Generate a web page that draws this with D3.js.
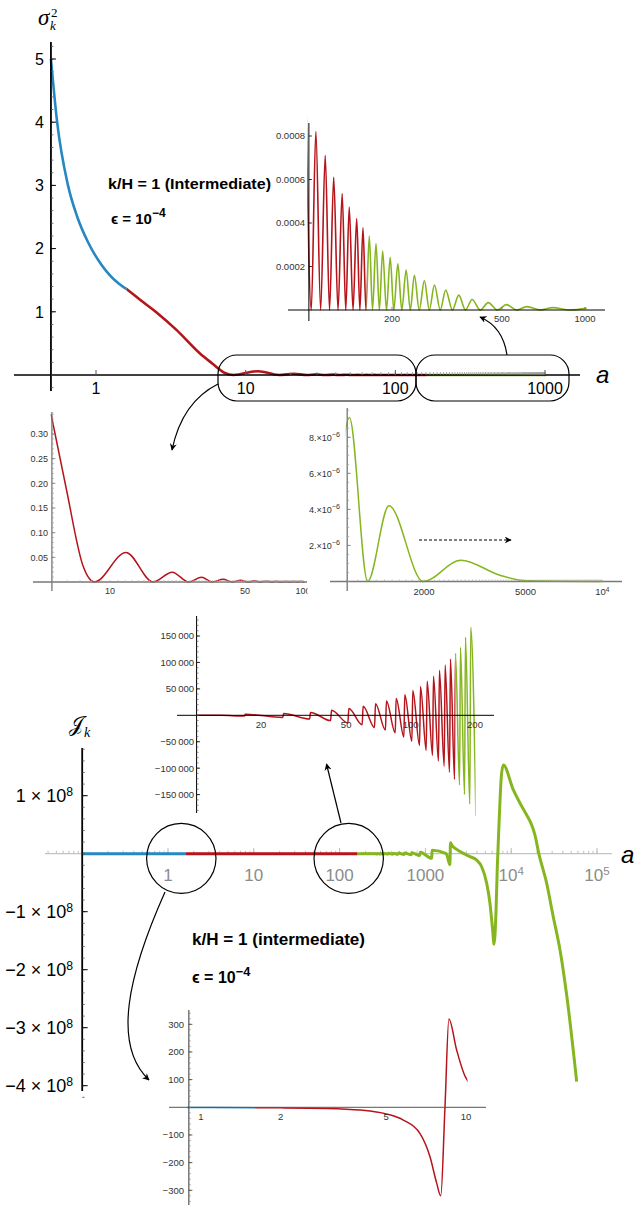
<!DOCTYPE html>
<html>
<head>
<meta charset="utf-8">
<script src="https://cdn.jsdelivr.net/npm/d3@7"></script>
<style>
  body { margin: 0; background: #fff; }
  svg { display: block; }
</style>
</head>
<body>
<svg id="fig" width="637" height="1205"></svg>
<script>
// ---- sigma_k^2 (top figure) ----
const sigSmoothA = [0.5, 0.55, 0.65, 0.75, 0.885, 1.09, 1.41, 1.6, 1.97, 2.54, 3.46, 4.95, 5.95, 7.26];
const sigSmoothV = [5.0, 4.0, 3.0, 2.5, 2.1, 1.74, 1.45, 1.36, 1.19, 0.99, 0.71, 0.34, 0.187, 0.032];
const sigZeroA = [8.3, 16.7, 25.6, 33.8, 43, 51.8, 60.3, 68.5, 77, 85.3, 93.5, 102, 110.3, 118.8,
  127.5, 136, 144.5, 153, 161, 170, 180, 191, 203, 217, 233, 251, 273, 299, 331, 369, 418, 482,
  567, 690, 880, 1203, 1986];
const sigPeakA = [12.1, 21, 29.8, 38.6, 47.5, 56, 64.5, 72.8, 81, 89.5, 97.8, 106, 114.6, 123,
  132, 140, 149, 157, 165.5, 175, 185, 197, 210, 225, 241, 262, 285, 313, 349, 390, 446, 519,
  615, 764, 1020, 1457, 2790];
const sigPeakV = [0.06, 0.02, 0.0094, 0.0054, 0.0035, 0.0024, 0.0017, 0.0013, 0.0011, 0.00097,
  0.0009, 0.00082, 0.00071, 0.00061, 0.000535, 0.000473, 0.00042, 0.000378, 0.00034, 0.000305,
  0.000271, 0.000242, 0.000212, 0.000184, 0.00016, 0.000135, 0.000115, 0.0000915, 0.0000682,
  0.000048, 0.000034, 0.0000248, 0.0000155, 0.000011, 0.0000091, 0.0000042, 0.00000118];
const sigTailA = [3970, 5050, 10000];
const sigTailV = [0.00000035, 0.00000004, 0];

// ---- J_k (bottom figure) ----
const jEarlyA = [0.1, 1, 2, 2.98, 4, 5, 5.8, 6.7, 7.31, 7.75, 8.03, 8.33, 8.62, 9.22, 9.97, 13];
const jEarlyV = [0, -1, -2, -4, -10, -24, -46, -94, -178, -274, -320, 0, 319, 207, 108, 10];
const spikeA = [16.8, 25.4, 33.9, 42.5, 51.2, 59.7, 68.2, 76.7, 85.2, 93.5, 101.9, 110.7, 118.9,
  127.3, 135.7, 144.3, 152.8, 161.3, 170.2, 179.6, 190.1, 203, 217, 233, 251, 273, 299, 331, 369,
  418, 482, 567, 690, 865, 1190];
const spikeUp = [1900, 3500, 5500, 9500, 13000, 17000, 22000, 27000, 32000, 39000, 47000, 54500,
  64600, 74000, 85000, 95000, 106500, 117000, 128600, 147600, 166700, 190000, 210000, 240000,
  280000, 330000, 400000, 480000, 600000, 800000, 1.0e6, 1.3e6, 1.8e6, 2.5e6, 6e6];
const spikeDown = [-1500, -4000, -7000, -10000, -14500, -18000, -23000, -28000, -33000, -41000,
  -49000, -57000, -66500, -76000, -87000, -96500, -108000, -121000, -132000, -150000, -168000,
  -190000, -210000, -240000, -280000, -330000, -400000, -480000, -600000, -800000, -1.0e6, -1.3e6,
  -1.8e6, -3e6, -8e6];
const jLateA = [1750, 1930, 1960, 2025, 2317, 2770, 3310, 3960, 4530, 5180, 5660, 6080, 6310, 6660,
  6890, 7270, 7670, 8090, 10590, 12680, 15140, 17330, 18930, 21000, 25900, 30950, 37070, 44360,
  57970];
const jLateV = [0, -0.19e8, 0.19e8, 0.15e8, 0.075e8, 0.006e8, -0.05e8, -0.11e8, -0.225e8, -0.51e8,
  -0.86e8, -1.32e8, -1.56e8, -0.97e8, -0.22e8, 0.64e8, 1.33e8, 1.53e8, 1.1e8, 0.87e8, 0.667e8,
  0.494e8, 0.32e8, 0, -0.51e8, -1.09e8, -1.66e8, -2.44e8, -3.93e8];

// phases: blue up to a = 1.6, red up to a = 162, green after
const phaseBreaks = [1.6, 162];
const phaseColors = ["#2588c2", "#b5141b", "#86b61f"];

// tick values and labels
const topXTicks = [1, 10, 100, 1000];
const topYTicks = [1, 2, 3, 4, 5];
const trXTicks = [200, 500, 1000];
const trYTicks = [0.0002, 0.0004, 0.0006, 0.0008];
const trYLabels = ["0.0002", "0.0004", "0.0006", "0.0008"];
const blXTicks = [10, 50, 100];
const blYTicks = [0.05, 0.10, 0.15, 0.20, 0.25, 0.30];
const brXTicks = [2000, 5000, 10000];
const brYTicks = [2e-6, 4e-6, 6e-6, 8e-6];
const brYMant = ["2.", "4.", "6.", "8."];
const bmXTicks = [1, 10, 100, 1000, 10000, 100000];
const bmXLabels = [["1"], ["10"], ["100"], ["1000"], ["10", "4"], ["10", "5"]];
const bmYTicks = [1e8, -1e8, -2e8, -3e8, -4e8];
const bmYMant = ["1", "\u22121", "\u22122", "\u22123", "\u22124"];
const midXTicks = [20, 50, 100, 200];
const midYTicks = [150000, 100000, 50000, -50000, -100000, -150000];
const midYLabels = ["150\u2009000", "100\u2009000", "50\u2009000", "\u221250\u2009000",
  "\u2212100\u2009000", "\u2212150\u2009000"];
const botXTicks = [1, 2, 5, 10];
const botYTicks = [300, 200, 100, -100, -200, -300];
const botYLabels = ["300", "200", "100", "\u2212100", "\u2212200", "\u2212300"];

const SANS = "'Liberation Sans', Arial, sans-serif";
const SPIKE_W = 0.005;

const svg = d3.select("#fig");
const defs = svg.append("defs");

defs.append("marker").attr("id", "ah").attr("viewBox", "0 0 10 10")
  .attr("refX", 9).attr("refY", 5).attr("markerWidth", 7).attr("markerHeight", 7)
  .attr("markerUnits", "userSpaceOnUse").attr("orient", "auto")
  .append("path").attr("d", "M0,0 L10,5 L0,10 L3,5 z").attr("fill", "#000");

function sigmaPoints() {
  const pts = sigSmoothA.map((a, i) => [a, sigSmoothV[i]]);
  sigZeroA.forEach((a) => pts.push([a, 0]));
  sigPeakA.forEach((a, i) => pts.push([a, sigPeakV[i]]));
  sigTailA.forEach((a, i) => pts.push([a, sigTailV[i]]));
  return pts.sort((p, q) => p[0] - q[0]);
}

function jPoints() {
  const pts = jEarlyA.map((a, i) => [a, jEarlyV[i]]);
  // each spike: dip just before a, jump just after it
  spikeA.forEach((a, i) => {
    pts.push([a * (1 - SPIKE_W), spikeDown[i]]);
    pts.push([a * (1 + SPIKE_W), spikeUp[i]]);
  });
  jLateA.forEach((a, i) => pts.push([a, jLateV[i]]));
  return pts.sort((p, q) => p[0] - q[0]);
}

const sigma = sigmaPoints();
const jk = jPoints();

let clipCount = 0;
function clipUrl(x0, x1) {
  const id = "clip" + clipCount++;
  defs.append("clipPath").attr("id", id)
    .append("rect").attr("x", x0).attr("y", 0).attr("width", x1 - x0).attr("height", 1205);
  return "url(#" + id + ")";
}

// draw a curve between a = lo and a = hi, coloured by phase
function drawCurve(pts, x, y, lo, hi, width) {
  const bis = d3.bisector((d) => d[0]);
  const i0 = Math.max(0, bis.right(pts, lo) - 1);
  const i1 = Math.min(pts.length - 1, bis.left(pts, hi));
  const sub = pts.slice(i0, i1 + 1);
  const line = d3.line().x((d) => x(d[0])).y((d) => y(d[1])).curve(d3.curveMonotoneX);
  const path = line(sub);
  const edges = [lo, ...phaseBreaks.filter((b) => b > lo && b < hi), hi];
  for (let k = 0; k < edges.length - 1; k++) {
    const mid = Math.sqrt(edges[k] * edges[k + 1]);
    const phase = d3.bisectRight(phaseBreaks, mid);
    const x0 = x(edges[k]) - (k === 0 ? width : 0);
    const x1 = x(edges[k + 1]) + (k === edges.length - 2 ? width : 0);
    svg.append("path").attr("d", path).attr("fill", "none")
      .attr("stroke", phaseColors[phase]).attr("stroke-width", width)
      .attr("stroke-linejoin", "round")
      .attr("clip-path", clipUrl(x0, x1));
  }
}

function line(x1, y1, x2, y2, color, w) {
  return svg.append("line").attr("x1", x1).attr("y1", y1).attr("x2", x2).attr("y2", y2)
    .attr("stroke", color).attr("stroke-width", w);
}

function text(x, y, s, o = {}) {
  return svg.append("text").attr("x", x).attr("y", y).text(s)
    .attr("font-family", o.family || SANS).attr("font-size", o.size || 10)
    .attr("fill", o.fill || "#000").attr("text-anchor", o.anchor || "start")
    .attr("font-weight", o.weight || null).attr("font-style", o.style || null)
    .attr("dy", o.dy || null);
}

function supText(x, y, base, sup, o = {}) {
  const t = text(x, y, "", o);
  t.append("tspan").text(base);
  if (sup) t.append("tspan").attr("dy", o.supDy || "-0.5em")
    .attr("font-size", o.supSize || "0.68em").text(sup);
  return t;
}

function xMinorTicks(x, lo, hi, y, len, color, w) {
  x.copy().domain([lo, hi]).ticks(80).forEach((v) => line(x(v), y, x(v), y - len, color, w));
}

function yTicks(xAxis, y, lo, hi, step, len, color, w) {
  for (let v = lo; v <= hi + step / 2; v += step) line(xAxis, y(v), xAxis + len, y(v), color, w);
}

// ================= TOP MAIN PANEL =================
const xTop = d3.scaleLog().domain([1, 1000]).range([96, 545]);
const yTop = d3.scaleLinear().domain([0, 5]).range([375, 59]);
const topAxisX = xTop(0.5);

drawCurve(sigma, xTop, yTop, 0.5, 1000, 2.6);

line(14, 375, 580, 375, "#000", 1.6);
xMinorTicks(xTop, 0.2, 1000, 375, 3, "#888", 0.7);
topXTicks.forEach((v) => line(xTop(v), 375, xTop(v), 370, "#555", 1));
topXTicks.forEach((v) => text(xTop(v), 394, String(v), { size: 16, anchor: "middle" }));

line(topAxisX, 42, topAxisX, 391, "#000", 1.8);
yTicks(topAxisX, yTop, -0.2, 5.2, 0.2, 2.5, "#555", 0.8);
topYTicks.forEach((v) => line(topAxisX, yTop(v), topAxisX + 5, yTop(v), "#000", 1));
topYTicks.forEach((v) => text(44, yTop(v), String(v), { size: 16, anchor: "end", dy: "0.36em" }));

// sigma_k^2 label
text(38, 25, "\u03c3", { family: "'Liberation Serif', serif", size: 23, style: "italic" });
text(51, 17, "2", { family: "'Liberation Serif', serif", size: 13 });
text(50, 30, "k", { family: "'Liberation Serif', serif", size: 13, style: "italic" });
text(596, 383, "a", { size: 24, style: "italic" });

text(108, 189, "k/H = 1 (Intermediate)", { size: 15, weight: "bold" })
  .attr("textLength", 163).attr("lengthAdjust", "spacingAndGlyphs");
supText(111, 224, "\u03f5 = 10", "\u22124",
  { size: 15, weight: "bold", supSize: "0.8em", supDy: "-0.55em" });

// brackets and arrows
svg.append("rect").attr("x", 218).attr("y", 355).attr("width", 198).attr("height", 46)
  .attr("rx", 19).attr("fill", "none").attr("stroke", "#000").attr("stroke-width", 1.2);
svg.append("rect").attr("x", 416).attr("y", 355).attr("width", 153).attr("height", 46)
  .attr("rx", 19).attr("fill", "none").attr("stroke", "#000").attr("stroke-width", 1.2);
svg.append("path").attr("d", "M507,355 Q503,327 480,317").attr("fill", "none")
  .attr("stroke", "#000").attr("stroke-width", 1.2).attr("marker-end", "url(#ah)");
svg.append("path").attr("d", "M218,384 Q182,402 172,450").attr("fill", "none")
  .attr("stroke", "#000").attr("stroke-width", 1.2).attr("marker-end", "url(#ah)");

// ================= TOP-RIGHT INSET (100 - 1000) =================
const xTR = d3.scaleLog().domain([200, 1000]).range([392, 585]);
const yTR = d3.scaleLinear().domain([0, 0.0008]).range([310, 136]);
drawCurve(sigma, xTR, yTR, 100, 1000, 1.6);
line(288, 310, 605, 310, "#000", 1);
line(xTR(100), 123, xTR(100), 321, "#000", 1);
trYTicks.forEach((v) => line(xTR(100), yTR(v), xTR(100) + 3, yTR(v), "#000", 0.8));
trYTicks.forEach((v, i) => text(305, yTR(v), trYLabels[i],
  { size: 9.5, anchor: "end", dy: "0.36em", fill: "#333" }));
trXTicks.forEach((v) => line(xTR(v), 310, xTR(v), 307, "#666", 0.8));
trXTicks.forEach((v) => text(xTR(v), 322, String(v), { size: 9.5, anchor: "middle", fill: "#333" }));

// ================= BOTTOM-LEFT INSET (5 - 100) =================
const xBL = d3.scaleLog().domain([10, 100]).range([110, 303]);
const yBL = d3.scaleLinear().domain([0, 0.30]).range([582, 434]);
drawCurve(sigma, xBL, yBL, 5, 100, 1.5);
const blClip = clipUrl(20, 307.5);
line(33, 582, 307, 582, "#777", 1.3);
xMinorTicks(xBL, 5, 100, 582, 2, "#aaa", 0.7);
line(xBL(5), 412, xBL(5), 591, "#777", 1.3);
yTicks(xBL(5), yBL, 0, 0.34, 0.01, 2, "#999", 0.7);
blYTicks.forEach((v) => line(xBL(5), yBL(v), xBL(5) + 3.5, yBL(v), "#777", 0.8));
blYTicks.forEach((v) => text(48, yBL(v), v.toFixed(2),
  { size: 9, anchor: "end", dy: "0.36em", fill: "#333" }));
blXTicks.forEach((v) => text(xBL(v), 594, String(v),
  { size: 9, anchor: "middle", fill: "#333" }).attr("clip-path", blClip));

// ================= BOTTOM-RIGHT INSET (1000 - 10^4) =================
const xBR = d3.scaleLog().domain([2000, 10000]).range([424, 602.3]);
const yBR = d3.scaleLinear().domain([0, 8e-6]).range([581.5, 437.3]);
drawCurve(sigma, xBR, yBR, 1000, 10000, 1.5);
line(330, 581.5, 622, 581.5, "#777", 1.3);
xMinorTicks(xBR, 1000, 10000, 581.5, 2, "#aaa", 0.7);
line(xBR(1000), 408, xBR(1000), 591, "#777", 1.3);
yTicks(xBR(1000), yBR, 0, 9.5e-6, 0.5e-6, 2, "#999", 0.7);
brYTicks.forEach((v) => line(xBR(1000), yBR(v), xBR(1000) + 3.5, yBR(v), "#777", 0.8));
brYTicks.forEach((v, i) => supText(340, yBR(v), brYMant[i] + "\u00d710", "\u22126",
  { size: 9, anchor: "end", dy: "0.36em", fill: "#333", supSize: "0.8em" }));
brXTicks.forEach((v) => {
  if (v === 10000) supText(xBR(v), 595, "10", "4", { size: 9.5, anchor: "middle", fill: "#333" });
  else text(xBR(v), 595, String(v), { size: 9.5, anchor: "middle", fill: "#333" });
});
svg.append("path").attr("d", "M419,540 L511,540").attr("fill", "none")
  .attr("stroke", "#000").attr("stroke-width", 1).attr("stroke-dasharray", "3,2")
  .attr("marker-end", "url(#ah)");

// ================= BOTTOM MAIN PANEL =================
const xBM = d3.scaleLog().domain([1, 100000]).range([168, 597]);
const yBM = d3.scaleLinear().domain([0, 1e8]).range([853.7, 795.7]);
const bmAxisX = xBM(0.1);

line(45, 853.7, 612, 853.7, "#c4c4c4", 1.2);
xMinorTicks(xBM, 0.04, 100000, 853.7, 3, "#bbb", 0.9);
bmXTicks.forEach((v) => line(xBM(v), 853.7, xBM(v), 848, "#bbb", 1));
drawCurve(jk, xBM, yBM, 0.1, 57970, 3);
bmXTicks.forEach((v, i) => supText(xBM(v), 881, bmXLabels[i][0], bmXLabels[i][1],
  { size: 17, anchor: "middle", fill: "#8c8c8c" }));

line(bmAxisX, 748, bmAxisX, 1091, "#000", 1.8);
yTicks(bmAxisX, yBM, -4.2e8, 1.8e8, 0.2e8, 2.5, "#555", 0.8);
bmYTicks.forEach((v) => line(bmAxisX, yBM(v), bmAxisX + 5.5, yBM(v), "#000", 1));
bmYTicks.forEach((v, i) => supText(73, yBM(v), bmYMant[i] + " \u00d7 10", "8",
  { size: 18, anchor: "end", dy: "0.36em" }));

text(69, 731, "\ud835\udca5", { family: "'DejaVu Serif', serif", size: 21 });
text(84, 737, "k", { family: "'Liberation Serif', serif", size: 14, style: "italic" });
text(621, 863, "a", { size: 24, style: "italic" });

text(192, 945, "k/H = 1 (intermediate)", { size: 16, weight: "bold" })
  .attr("textLength", 173).attr("lengthAdjust", "spacingAndGlyphs");
supText(192, 983, "\u03f5 = 10", "\u22124",
  { size: 16, weight: "bold", supSize: "0.8em", supDy: "-0.55em" });

svg.append("ellipse").attr("cx", 181.3).attr("cy", 858.3).attr("rx", 34.7).attr("ry", 35)
  .attr("fill", "none").attr("stroke", "#000").attr("stroke-width", 1.2);
svg.append("ellipse").attr("cx", 348.7).attr("cy", 858.3).attr("rx", 34.7).attr("ry", 35)
  .attr("fill", "none").attr("stroke", "#000").attr("stroke-width", 1.2);
svg.append("path").attr("d", "M341,823 L326.5,764").attr("fill", "none")
  .attr("stroke", "#000").attr("stroke-width", 1.2).attr("marker-end", "url(#ah)");
svg.append("path").attr("d", "M165,892 C128,975 112,1045 149,1080").attr("fill", "none")
  .attr("stroke", "#000").attr("stroke-width", 1.2).attr("marker-end", "url(#ah)");

// ================= MIDDLE INSET (10 - 200) =================
const xMid = d3.scaleLog().domain([20, 200]).range([261, 475]);
const yMid = d3.scaleLinear().domain([0, 150000]).range([715.3, 636]);
const midAxisX = xMid(10);
drawCurve(jk, xMid, yMid, 10, 198, 1.5);
line(177, 715.3, 494, 715.3, "#000", 1);
line(midAxisX, 616, midAxisX, 813, "#000", 1);
yTicks(midAxisX, yMid, -180000, 180000, 10000, 2, "#666", 0.7);
midYTicks.forEach((v) => line(midAxisX, yMid(v), midAxisX + 3.5, yMid(v), "#000", 0.8));
midYTicks.forEach((v, i) => text(194, yMid(v), midYLabels[i],
  { size: 9.5, anchor: "end", dy: "0.36em", fill: "#333" }));
midXTicks.forEach((v) => text(xMid(v), 728, String(v), { size: 9.5, anchor: "middle", fill: "#333" }));

// ================= BOTTOM INSET (0.9 - 10) =================
const xBot = d3.scaleLog().domain([1, 10]).range([201, 466]);
const yBot = d3.scaleLinear().domain([0, 300]).range([1107.3, 1024.3]);
const botAxisX = xBot(0.9);
drawCurve(jk, xBot, yBot, 0.9, 10, 1.5);
line(169, 1107.3, 486, 1107.3, "#555", 1);
line(botAxisX, 1010, botAxisX, 1205, "#333", 1);
yTicks(botAxisX, yBot, -340, 340, 20, 2, "#888", 0.7);
botYTicks.forEach((v) => line(botAxisX, yBot(v), botAxisX + 3.5, yBot(v), "#333", 0.8));
botYTicks.forEach((v, i) => text(184, yBot(v), botYLabels[i],
  { size: 9.5, anchor: "end", dy: "0.36em", fill: "#333" }));
botXTicks.forEach((v) => text(xBot(v), 1120, String(v), { size: 9.5, anchor: "middle", fill: "#333" }));
</script>
</body>
</html>
